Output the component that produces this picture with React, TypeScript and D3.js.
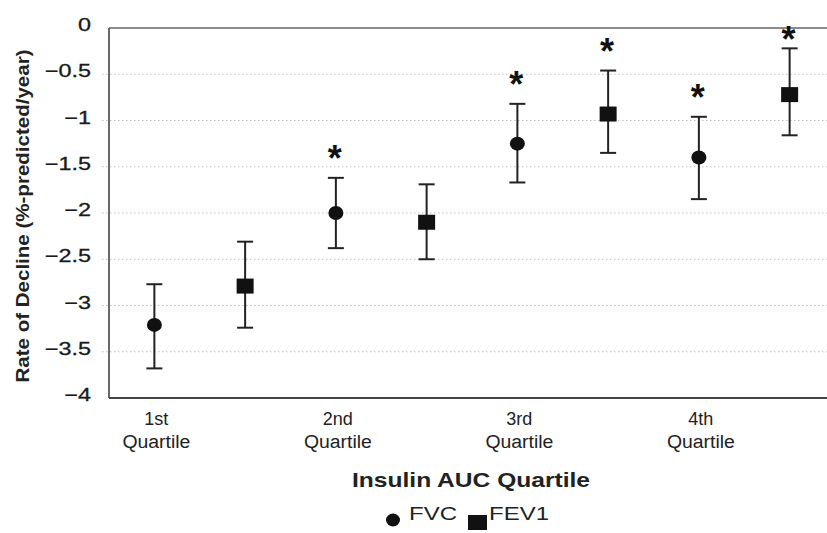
import React from 'react';
import * as d3 from 'd3';

// values (rate of decline, %-predicted/year)
const quartiles = ['1st', '2nd', '3rd', '4th'];
const yTicks = [0, -0.5, -1, -1.5, -2, -2.5, -3, -3.5, -4];

const fvcMean = [-3.21, -2.0, -1.25, -1.4];
const fvcUpper = [-2.77, -1.62, -0.82, -0.96];
const fvcLower = [-3.68, -2.38, -1.67, -1.85];
const fvcSig = [false, true, true, true];

const fev1Mean = [-2.79, -2.1, -0.93, -0.72];
const fev1Upper = [-2.31, -1.69, -0.46, -0.22];
const fev1Lower = [-3.24, -2.5, -1.35, -1.16];
const fev1Sig = [false, false, true, true];

const W = 827;
const H = 533;
const FONT = '"Liberation Sans", Arial, sans-serif';

const x = d3.scaleLinear().domain([-0.25, 3.75]).range([109, 835]);
const y = d3.scaleLinear().domain([-4, 0]).range([398, 28]);

const fmt = (v: number) => (v === 0 ? '0' : '\u2212' + String(Math.abs(v)));

const series = [
  { name: 'FVC', shape: 'circle', offset: 0, mean: fvcMean, upper: fvcUpper, lower: fvcLower, sig: fvcSig },
  { name: 'FEV1', shape: 'square', offset: 0.5, mean: fev1Mean, upper: fev1Upper, lower: fev1Lower, sig: fev1Sig },
];

const App: React.FC = () => {
  const [x0] = x.range();
  const [yb, yt] = y.range();

  return (
    <svg width={W} height={H} style={{ position: 'absolute', left: 0, top: 0, background: '#fff' }} fontFamily={FONT}>
      {/* dotted grid */}
      {yTicks.filter(t => t !== 0 && t !== -4).map(t => (
        <line key={t} x1={x0 - 7} x2={W} y1={y(t)} y2={y(t)}
          stroke="#aaa" strokeWidth={1} strokeDasharray="1.5,2.5" opacity={0.75} />
      ))}

      {/* frame */}
      <line x1={x0} x2={W} y1={yt} y2={yt} stroke="#666" strokeWidth={1.6} />
      <line x1={x0} x2={W} y1={yb} y2={yb} stroke="#444" strokeWidth={2} />
      <line x1={x0} x2={x0} y1={yt} y2={yb} stroke="#444" strokeWidth={1.6} />

      {/* y ticks */}
      {yTicks.map(t => (
        <g key={t} transform={`translate(91,${y(t) + 3}) scale(1.3,1)`}>
          <text textAnchor="end" fontSize={18} fill="#1a1a1a" stroke="#1a1a1a" strokeWidth={0.3}>{fmt(t)}</text>
        </g>
      ))}

      {/* y title */}
      <text transform={`translate(29,216) rotate(-90)`} textAnchor="middle" fontSize={19}
        fontWeight="bold" fill="#222" textLength={333} lengthAdjust="spacingAndGlyphs">
        Rate of Decline (%-predicted/year)
      </text>

      {/* x ticks */}
      {quartiles.map((q, i) => (
        <text key={q} textAnchor="middle" fontSize={18} fill="#222">
          <tspan x={x(i) + 2} y={425}>{q}</tspan>
          <tspan x={x(i) + 2} y={448} textLength={68} lengthAdjust="spacingAndGlyphs">Quartile</tspan>
        </text>
      ))}

      <text x={471} y={487} textAnchor="middle" fontSize={21} fontWeight="bold" fill="#222"
        textLength={238} lengthAdjust="spacingAndGlyphs">Insulin AUC Quartile</text>

      {/* error bars, markers, significance stars */}
      {series.map(s => s.mean.map((m, i) => {
        const cx = x(i + s.offset);
        const top = y(s.upper[i]);
        const bot = y(s.lower[i]);
        const cy = y(m);
        const starY = Math.max(top - 28, 31);
        return (
          <g key={s.name + i}>
            <line x1={cx} x2={cx} y1={top} y2={bot} stroke="#222" strokeWidth={2} />
            <line x1={cx - 8} x2={cx + 8} y1={top} y2={top} stroke="#222" strokeWidth={2} />
            <line x1={cx - 8} x2={cx + 8} y1={bot} y2={bot} stroke="#222" strokeWidth={2} />
            {s.shape === 'circle'
              ? <ellipse cx={cx} cy={cy} rx={7.5} ry={7} fill="#111" />
              : <rect x={cx - 8.5} y={cy - 7.5} width={17} height={15} fill="#111" />}
            {s.sig[i] && (
              <text x={cx - 1} y={starY + 21} textAnchor="middle" fontSize={36} fontWeight="bold" fill="#111">*</text>
            )}
          </g>
        );
      }))}

      {/* legend */}
      <ellipse cx={393} cy={520} rx={7} ry={6.5} fill="#111" />
      <text x={409} y={520} fontSize={19} fill="#222" textLength={48} lengthAdjust="spacingAndGlyphs">FVC</text>
      <rect x={468} y={515} width={19} height={15} fill="#111" />
      <text x={489} y={520} fontSize={19} fill="#222" textLength={60} lengthAdjust="spacingAndGlyphs">FEV1</text>
    </svg>
  );
};

export default App;
